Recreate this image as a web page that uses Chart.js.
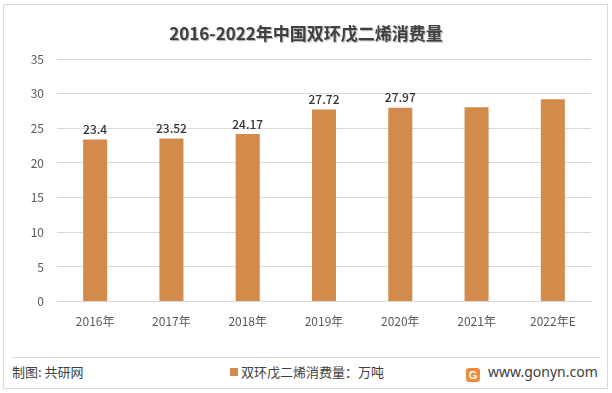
<!DOCTYPE html>
<html>
<head>
<meta charset="utf-8">
<script src="https://cdn.jsdelivr.net/npm/chart.js@4.4.0/dist/chart.umd.min.js"></script>
<style>
	body { margin: 0; background: #fff; }
	#frame { position: absolute; left: 3px; top: 4px; width: 603px; height: 383px; border: 1px solid #d9d9d9; }
	#title { position: absolute; left: 0; top: 20px; width: 612px; text-align: center; font: bold 17px "Noto Sans CJK SC", sans-serif; color: #404040; text-shadow: 1px 1px 1px #b0b0b0; }
	#wrap { position: absolute; left: 0; top: 0; width: 612px; height: 342px; }
	#sep { position: absolute; left: 12px; top: 357px; width: 588px; height: 1px; background: #d9d9d9; }
	#footer { position: absolute; left: 0; top: 362px; width: 612px; height: 22px; font: 13px "Noto Sans CJK SC", sans-serif; color: #404040; }
	#source { position: absolute; left: 12px; top: 0; }
	#legend { position: absolute; left: 230px; top: 0; }
	#site { position: absolute; left: 466px; top: 0; font: 14px "Noto Sans", sans-serif; color: #404040; }
</style>
</head>
<body>
<div id="frame"></div>
<div id="wrap"><canvas id="chart"></canvas></div>
<div id="title">2016-2022年中国双环戊二烯消费量</div>
<div id="sep"></div>
<div id="footer">
	<span id="source">制图: 共研网</span>
	<div id="legend"></div>
	<span id="site"><span style="display:inline-block;width:14px;height:14px;background:#f08a3c;border-radius:3px;vertical-align:-2px;margin-right:8px;color:#fff;font:bold 11px sans-serif;text-align:center;line-height:14px">G</span>www.gonyn.com</span>
</div>
<script>
const years = ['2016年', '2017年', '2018年', '2019年', '2020年', '2021年', '2022年E'];
const consumption = [23.4, 23.52, 24.17, 27.72, 27.97, 28.05, 29.2];
const valueLabels = ['23.4', '23.52', '24.17', '27.72', '27.97', '', ''];
const yTicks = [0, 5, 10, 15, 20, 25, 30, 35];
const seriesName = '双环戊二烯消费量：万吨';

const barColor = '#d38b4c';
const textColor = '#595959';

// draw the value above each bar that has a label
const valueLabelPlugin = {
	id: 'valueLabels',
	afterDatasetsDraw(chart) {
		const ctx = chart.ctx;
		const meta = chart.getDatasetMeta(0);
		ctx.save();
		ctx.font = '500 12px "Noto Sans CJK SC", sans-serif';
		ctx.fillStyle = '#333333';
		ctx.textAlign = 'center';
		ctx.textBaseline = 'bottom';
		meta.data.forEach((bar, i) => {
			if (valueLabels[i]) {
				ctx.fillText(valueLabels[i], bar.x, bar.y - 4);
			}
		});
		ctx.restore();
	}
};

const htmlLegendPlugin = {
	id: 'htmlLegend',
	afterUpdate(chart) {
		const box = document.getElementById('legend');
		while (box.firstChild) box.firstChild.remove();
		chart.options.plugins.legend.labels.generateLabels(chart).forEach(item => {
			const mark = document.createElement('span');
			mark.style.display = 'inline-block';
			mark.style.width = '8px';
			mark.style.height = '8px';
			mark.style.background = item.fillStyle;
			mark.style.marginRight = '3px';
			mark.style.verticalAlign = '1px';
			box.appendChild(mark);
			box.appendChild(document.createTextNode(item.text));
		});
	}
};

new Chart(document.getElementById('chart'), {
	type: 'bar',
	data: {
		labels: years,
		datasets: [{
			label: seriesName,
			data: consumption,
			backgroundColor: barColor,
			categoryPercentage: 1,
			barPercentage: 0.315
		}]
	},
	options: {
		responsive: true,
		maintainAspectRatio: false,
		animation: false,
		layout: { padding: { left: 0, right: 21, top: 59, bottom: 0 } },
		plugins: {
			legend: { display: false },
			tooltip: { enabled: false }
		},
		scales: {
			x: {
				grid: { display: false, drawTicks: false },
				border: { color: '#d9d9d9' },
				ticks: { color: textColor, padding: 13, font: { size: 12, family: '"Noto Sans CJK SC", sans-serif' } }
			},
			y: {
				min: 0,
				max: 35,
				afterBuildTicks(scale) { scale.ticks = yTicks.map(v => ({ value: v })); },
				afterFit(scale) { scale.width = 57; },
				grid: { color: '#d9d9d9', drawTicks: false },
				border: { display: false },
				ticks: { color: textColor, padding: 13, font: { size: 12, family: '"Noto Sans CJK SC", sans-serif' } }
			}
		}
	},
	plugins: [valueLabelPlugin, htmlLegendPlugin]
});
</script>
</body>
</html>
